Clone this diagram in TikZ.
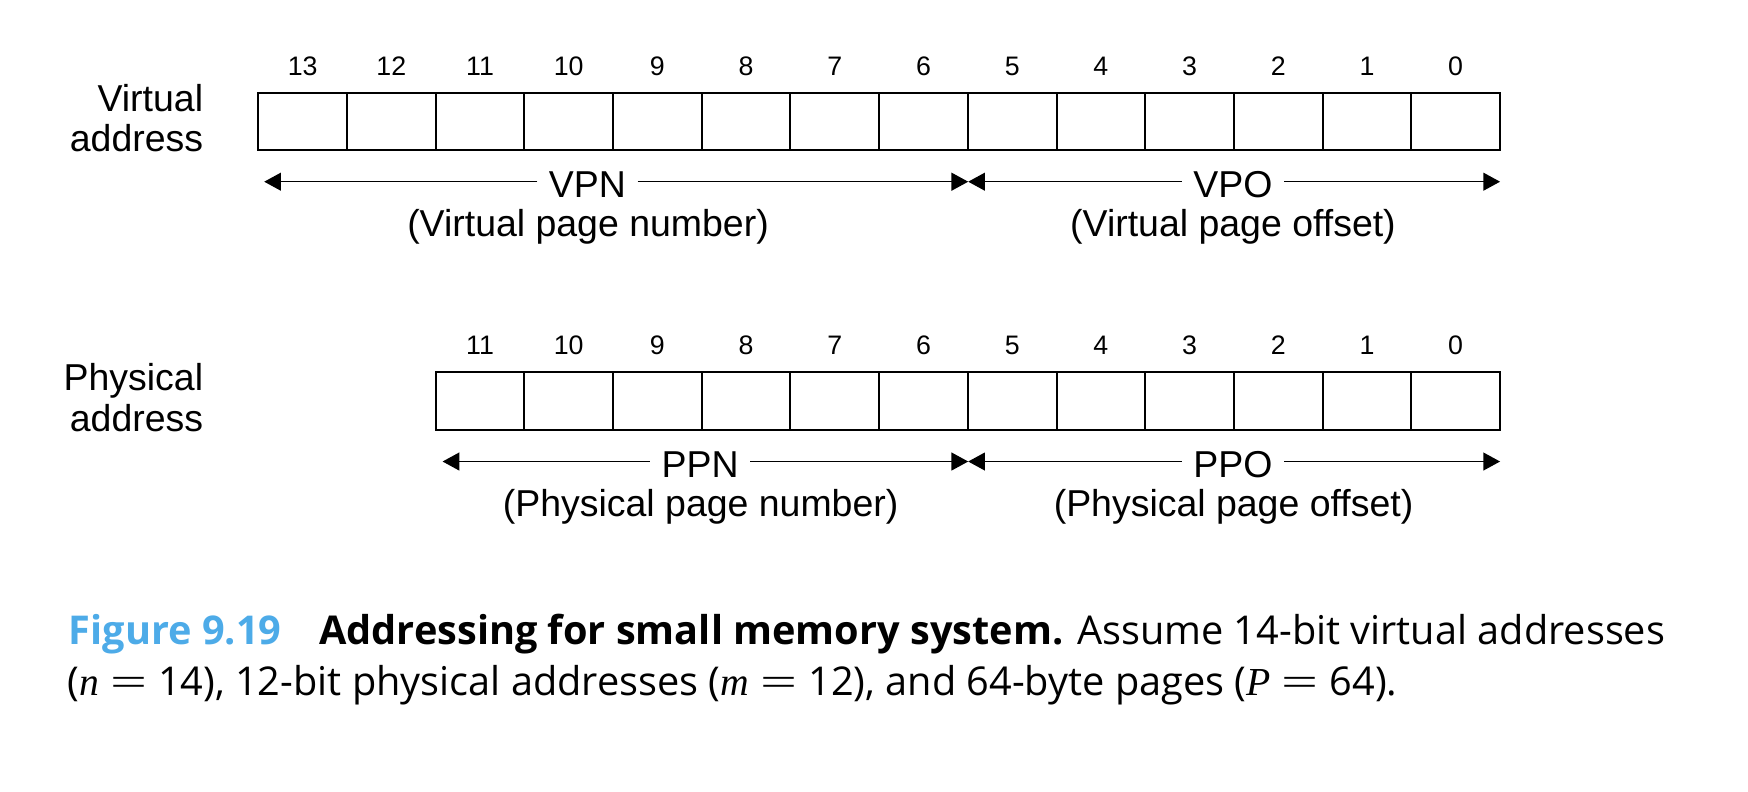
\documentclass[tikz,border=0pt]{standalone}
\usepackage{fontspec}
\usepackage{graphicx}
\setmainfont{Liberation Sans}
\newfontfamily\capfont{Open Sans}
\newfontfamily\capserif{Liberation Serif}
\usetikzlibrary{arrows.meta}
\definecolor{figblue}{RGB}{77,171,232}
\newcommand{\capeq}{\hspace{5pt}\scalebox{1.65}[1]{\capserif =}\hspace{5pt}}
\begin{document}
\begin{tikzpicture}[x=0.5pt,y=-0.5pt,
  cell/.style={draw,line width=0.9pt,minimum width=39.78pt,minimum height=25.7pt,inner sep=0pt,outer sep=0pt,anchor=north west},
  bitnum/.style={font=\fontsize{12}{14}\selectfont,anchor=base,inner sep=0pt},
  lbl/.style={font=\fontsize{16.8}{18.2}\selectfont,align=right,inner sep=0pt},
  albl/.style={font=\fontsize{16.8}{20}\selectfont,anchor=base,inner xsep=5pt,inner ysep=0pt},
  arr/.style={line width=0.65pt,-{Triangle[length=7.5pt,width=8pt]}},
  captext/.style={font=\capfont\fontsize{17.8}{22}\selectfont,anchor=base west,inner sep=0pt}]
\useasboundingbox (0,0) rectangle (1568,710);
% virtual address
\foreach \b in {0,...,13} {
  \pgfmathsetmacro\cx{231.7+(13-\b)*79.56}
  \pgfmathsetmacro\cc{\cx+39.78}
  \node[cell] (va\b) at (\cx,83.1) {};
  \node[bitnum] (vab\b) at (\cc,67.3) {\b};
}
\node[lbl,anchor=base east] (valbl) at (182.6,136) {Virtual\\address};
\coordinate (vpnL) at (237,163);
\coordinate (vmid) at (868.5,163);
\coordinate (vpoR) at (1345.6,163);
\node[albl] (vpn) at (527,177.3) {VPN};
\node[albl] (vpo) at (1106,177.3) {VPO};
\draw[arr] (vpn.west |- vpnL) -- (vpnL);
\draw[arr] (vpn.east |- vmid) -- (vmid);
\draw[arr] (vpo.west |- vmid) -- (vmid);
\draw[arr] (vpo.east |- vpoR) -- (vpoR);
\node[albl] (vpnd) at (527.5,212.3) {(Virtual page number)};
\node[albl] (vpod) at (1106,212.3) {(Virtual page offset)};
% physical address
\foreach \b in {0,...,11} {
  \pgfmathsetmacro\cx{231.7+(13-\b)*79.56}
  \pgfmathsetmacro\cc{\cx+39.78}
  \node[cell] (pa\b) at (\cx,334.1) {};
  \node[bitnum] (pab\b) at (\cc,318.3) {\b};
}
\node[lbl,anchor=base east] (palbl) at (182.6,387) {Physical\\address};
\coordinate (ppnL) at (397,414);
\coordinate (pmid) at (868.5,414);
\coordinate (ppoR) at (1345.6,414);
\node[albl] (ppn) at (628,428.3) {PPN};
\node[albl] (ppo) at (1106,428.3) {PPO};
\draw[arr] (ppn.west |- ppnL) -- (ppnL);
\draw[arr] (ppn.east |- pmid) -- (pmid);
\draw[arr] (ppo.west |- pmid) -- (pmid);
\draw[arr] (ppo.east |- ppoR) -- (ppoR);
\node[albl] (ppnd) at (628.5,463.3) {(Physical page number)};
\node[albl] (ppod) at (1106.5,463.3) {(Physical page offset)};
% caption
\node[captext] (cap1) at (61.3,578) {{\bfseries\color{figblue}Figure 9.19}\hspace{17pt}{\bfseries Addressing for small memory system.} Assume 14-bit virtual addresses};
\node[captext] (cap2) at (60,624) {({\capserif\itshape n}\capeq 14), 12-bit physical addresses ({\capserif\itshape m}\capeq 12), and 64-byte pages ({\capserif\itshape P}\capeq 64).};
\end{tikzpicture}
\end{document}
